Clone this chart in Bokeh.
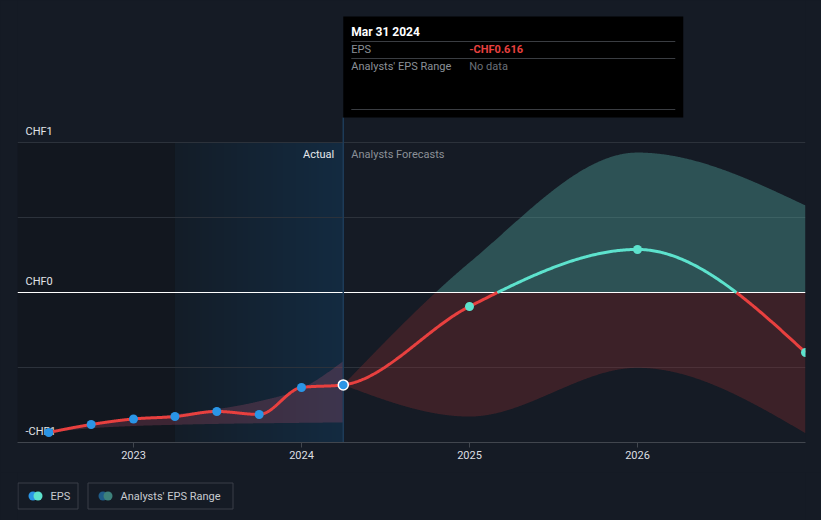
import datetime as dt
import numpy as np
from bokeh.plotting import figure
from bokeh.layouts import column
from bokeh.models import Range1d, FixedTicker, Grid
from bokeh.core.properties import value
from bokeh.embed import file_html
from bokeh.resources import INLINE

# ---------------- data ----------------
actual_dates = ["2022-06-30", "2022-09-30", "2022-12-31", "2023-03-31",
                "2023-06-30", "2023-09-30", "2023-12-31", "2024-03-31"]
actual_eps = [-0.933, -0.880, -0.843, -0.827, -0.793, -0.813, -0.633, -0.616]
past_range_high = [-0.933, -0.878, -0.845, -0.812, -0.778, -0.725, -0.640, -0.458]
past_range_low = [-0.933, -0.905, -0.890, -0.882, -0.876, -0.872, -0.869, -0.866]

forecast_dates = ["2024-03-31", "2024-12-31", "2025-12-31", "2026-12-31"]
forecast_eps = [-0.616, -0.093, 0.287, -0.400]
forecast_high = [-0.616, 0.200, 0.933, 0.580]
forecast_low = [-0.616, -0.827, -0.502, -0.938]

year_ticks = [2023, 2024, 2025, 2026]
y_ticks = [-1, 0, 1]
y_tick_labels = ["-CHF1", "CHF0", "CHF1"]
grid_ticks = [-0.5, 0.5, 1.0]

tooltip_date = "Mar 31 2024"
tooltip_rows = ["EPS", "Analysts' EPS Range"]
tooltip_values = ["-CHF0.616", "No data"]

legend_labels = ["EPS", "Analysts' EPS Range"]
legend_colors_a = ["#2a95e6", "#1f5c89"]
legend_colors_b = ["#5de2cd", "#3d817b"]

# ---------------- colours ----------------
BG = "#151b25"
RED = "#e8403f"
CYAN = "#5de2cd"
BLUE = "#2a95e6"


def frac_year(s):
    d = dt.date.fromisoformat(s)
    start = dt.date(d.year, 1, 1)
    n = (dt.date(d.year + 1, 1, 1) - start).days
    return d.year + ((d - start).days + 1) / n


def monotone(xs, ys, n=60):
    """d3 curveMonotoneX rendered as sampled cubic Bezier segments."""
    x = np.asarray(xs, float)
    y = np.asarray(ys, float)
    m = len(x)
    h = np.diff(x)
    s = np.diff(y) / h
    t = np.zeros(m)
    for i in range(1, m - 1):
        p = (s[i - 1] * h[i] + s[i] * h[i - 1]) / (h[i - 1] + h[i])
        t[i] = (np.sign(s[i - 1]) + np.sign(s[i])) * min(abs(s[i - 1]), abs(s[i]), 0.5 * abs(p))
    if m > 2:
        t[0] = (3 * s[0] - t[1]) / 2
        t[-1] = (3 * s[-1] - t[-2]) / 2
    else:
        t[0] = t[-1] = s[0]
    ox, oy = [x[0]], [y[0]]
    u = np.linspace(0, 1, n + 1)[1:]
    for i in range(m - 1):
        dx = h[i] / 3
        p0, p1, p2, p3 = y[i], y[i] + dx * t[i], y[i + 1] - dx * t[i + 1], y[i + 1]
        yy = (1 - u) ** 3 * p0 + 3 * (1 - u) ** 2 * u * p1 + 3 * (1 - u) * u ** 2 * p2 + u ** 3 * p3
        ox.extend(x[i] + u * h[i])
        oy.extend(yy)
    return np.array(ox), np.array(oy)


def split_sign(x, y):
    xs, ys = [x[0]], [y[0]]
    for i in range(1, len(x)):
        if (y[i - 1] < 0) != (y[i] < 0) and y[i] != y[i - 1]:
            xc = x[i - 1] + (0 - y[i - 1]) * (x[i] - x[i - 1]) / (y[i] - y[i - 1])
            xs.append(xc)
            ys.append(0.0)
        xs.append(x[i])
        ys.append(y[i])
    xs = np.array(xs)
    ys = np.array(ys)
    return xs, np.where(ys <= 0, ys, np.nan), np.where(ys >= 0, ys, np.nan)


ax = [frac_year(d) for d in actual_dates]
fx = [frac_year(d) for d in forecast_dates]
now_x = ax[-1]
region_start = ax[3]

# ---------------- main figure ----------------
X0, X1 = 2022.3095, 2027.0
Y0, Y1 = -1.0, 1.9467
W, H = 821, 472
LB, RB, TB, BB = 17, 16, 0, 30
PXX = (W - LB - RB) / (X1 - X0)
PXY = (H - TB - BB) / (Y1 - Y0)

p = figure(width=W, height=H, x_range=Range1d(X0, X1), y_range=Range1d(Y0, Y1),
           output_backend="svg", toolbar_location=None, y_axis_location=None,
           min_border_left=LB, min_border_right=RB, min_border_top=TB, min_border_bottom=BB)
p.background_fill_color = BG
p.border_fill_color = BG
p.outline_line_color = None
p.xgrid.visible = False
p.ygrid.visible = False

# past / actual shaded regions
r = p.quad(left=X0, right=region_start, bottom=-1, top=1, fill_color="#12171f", line_color=None)
r.level = "image"
ncol = 80
c0 = np.array([19, 29, 40])
c1 = np.array([20, 43, 65])
img = np.zeros((1, ncol), dtype=np.uint32)
view = img.view(dtype=np.uint8).reshape((1, ncol, 4))
for i in range(ncol):
    c = c0 + (c1 - c0) * i / (ncol - 1)
    view[0, i, 0:3] = c.astype(np.uint8)
    view[0, i, 3] = 255
ri = p.image_rgba(image=[img], x=region_start, y=-1, dw=now_x - region_start, dh=2)
ri.level = "image"

grid = Grid(dimension=1, ticker=FixedTicker(ticks=grid_ticks),
            grid_line_color="#2c323b", grid_line_width=1)
p.add_layout(grid)

# y labels (inside plot)
p.text(x=[X0] * len(y_ticks), y=y_ticks, text=y_tick_labels, x_offset=8, y_offset=-11.5,
       text_font=value("Roboto"), text_font_size="11px", text_color="#e2e4e7",
       text_baseline="middle", text_align="left")

# past analysts band
bx, bh = monotone(ax, past_range_high)
_, bl = monotone(ax, past_range_low)
p.varea(x=bx, y1=bl, y2=bh, fill_color="#d65a7a", fill_alpha=0.22)

# forecast band split at zero
fbx, fbh = monotone(fx, forecast_high, n=200)
_, fbl = monotone(fx, forecast_low, n=200)
p.varea(x=fbx, y1=np.maximum(fbl, 0), y2=np.maximum(fbh, 0), fill_color="#5cbbae", fill_alpha=0.35)
p.varea(x=fbx, y1=np.minimum(fbl, 0), y2=np.minimum(fbh, 0), fill_color="#973232", fill_alpha=0.30)

# zero line
p.hspan(y=[0], line_color="#ffffff", line_width=1.2)

# hover vertical line
tip_bottom = 1 + 25 / PXY
tip_top = 1 + 126 / PXY
p.segment(x0=[now_x], y0=[-1], x1=[now_x], y1=[tip_bottom], line_color="#1d3b58", line_width=1.5)

# EPS line (actual + forecast)
lx, ly = monotone(ax + fx[1:], actual_eps + forecast_eps[1:], n=120)
sx, neg, pos = split_sign(lx, ly)
p.line(sx, neg, line_color=RED, line_width=3)
p.line(sx, pos, line_color=CYAN, line_width=3)

# points
p.scatter(ax[:-1], actual_eps[:-1], size=9, fill_color=BLUE, line_color=None)
p.scatter([ax[-1]], [actual_eps[-1]], size=10, fill_color=BLUE, line_color="#ffffff", line_width=1.5)
p.scatter(fx[1:], forecast_eps[1:], size=9, fill_color=CYAN, line_color=None)

# section labels
p.text(x=[now_x], y=[1], text=["Actual"], x_offset=-9, y_offset=12,
       text_font=value("Roboto"), text_font_size="11px", text_color="#e6e8eb",
       text_align="right", text_baseline="middle")
p.text(x=[now_x], y=[1], text=["Analysts Forecasts"], x_offset=8, y_offset=12,
       text_font=value("Roboto"), text_font_size="11px", text_color="#8b9097",
       text_align="left", text_baseline="middle")

# tooltip
tip_right = now_x + 340 / PXX
p.quad(left=[now_x], right=[tip_right], bottom=[tip_bottom], top=[tip_top],
       fill_color="#000000", line_color=None)
sep_y = [1 + (142 - 41) / PXY, 1 + (142 - 58) / PXY, 1 + (142 - 109) / PXY]
p.segment(x0=[now_x + 8 / PXX] * 3, y0=sep_y, x1=[now_x + 332 / PXX] * 3, y1=sep_y,
          line_color="#3a3d42", line_width=1)
p.text(x=[now_x], y=[1], text=[tooltip_date], x_offset=8, y_offset=-111,
       text_font=value("Roboto"), text_font_size="12px", text_font_style="bold",
       text_color="#ffffff", text_align="left", text_baseline="middle")
p.text(x=[now_x, now_x], y=[1, 1], text=tooltip_rows, x_offset=8, y_offset=[-93, -76],
       text_font=value("Roboto"), text_font_size="11px", text_color="#8b9097",
       text_align="left", text_baseline="middle")
p.text(x=[now_x], y=[1], text=[tooltip_values[0]], x_offset=126, y_offset=-93,
       text_font=value("Roboto"), text_font_size="11px", text_font_style="bold",
       text_color=RED, text_align="left", text_baseline="middle")
p.text(x=[now_x], y=[1], text=[tooltip_values[1]], x_offset=126, y_offset=-76,
       text_font=value("Roboto"), text_font_size="11px", text_color="#6b7078",
       text_align="left", text_baseline="middle")

# x axis
p.xaxis.ticker = FixedTicker(ticks=year_ticks)
p.xaxis.axis_line_color = "#41464e"
p.xaxis.major_tick_line_color = "#41464e"
p.xaxis.major_tick_out = 5
p.xaxis.major_tick_in = 0
p.xaxis.minor_tick_line_color = None
p.xaxis.major_label_standoff = 3
p.xaxis.major_label_text_font = "Roboto"
p.xaxis.major_label_text_font_size = "11px"
p.xaxis.major_label_text_color = "#dcdee1"

# ---------------- legend strip ----------------
lg = figure(width=W, height=520 - H, x_range=Range1d(LB, W - RB), y_range=Range1d(520, H),
            output_backend="svg", toolbar_location=None, x_axis_location=None,
            y_axis_location=None, min_border_left=LB, min_border_right=RB,
            min_border_top=0, min_border_bottom=0)
lg.background_fill_color = BG
lg.border_fill_color = BG
lg.outline_line_color = None
lg.xgrid.visible = False
lg.ygrid.visible = False

box_left = [17.5, 87.5]
box_right = [77.5, 232.5]
lg.quad(left=box_left, right=box_right, top=[482.5, 482.5], bottom=[508.5, 508.5],
        fill_alpha=0, line_color="#3a3f48", line_width=1)
icon_x = [32.5, 102.5]
lg.scatter(icon_x, [495.5, 495.5], size=9, fill_color=legend_colors_a, line_color=None)
lg.scatter([v + 5 for v in icon_x], [495.5, 495.5], size=9, fill_color=legend_colors_b, line_color=None)
lg.text(x=[50, 120], y=[495.5, 495.5], text=legend_labels,
        text_font=value("Roboto"), text_font_size="11px", text_color="#c8cbd0",
        text_align="left", text_baseline="middle")

layout = column(p, lg, spacing=0)

html = file_html(layout, INLINE)
html = html.replace("<head>", "<head><style>html,body{background:%s;}</style>" % BG, 1)
open("out.html", "w").write(html)
